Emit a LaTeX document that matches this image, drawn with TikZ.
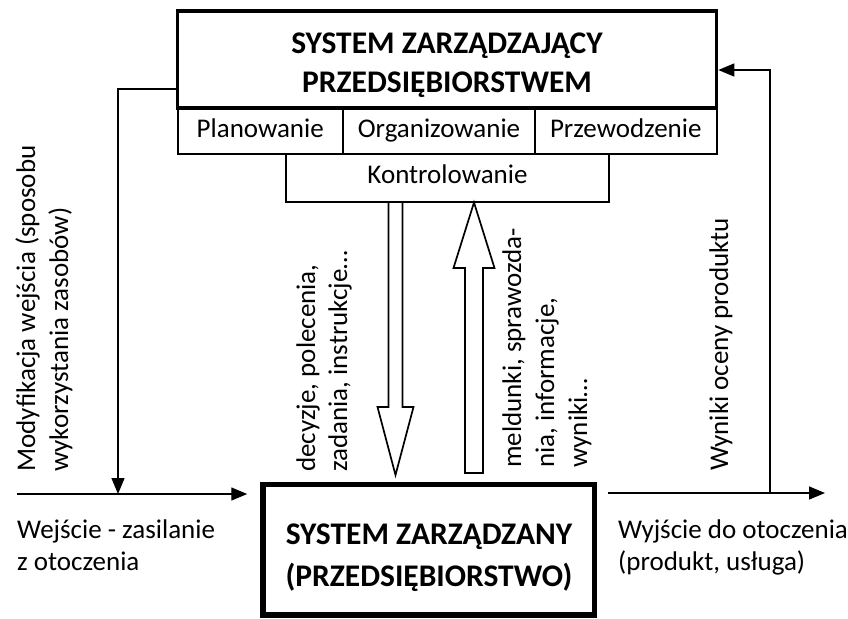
\documentclass[tikz,border=0pt]{standalone}
\usepackage{fontspec}
\setmainfont{Carlito}
\usetikzlibrary{arrows.meta}

\tikzset{
  txt/.style={font=\fontsize{27}{32}\selectfont, inner sep=0pt},
  ttl/.style={font=\fontsize{31.5}{39}\selectfont\bfseries, align=center, inner sep=0pt},
  cell/.style={draw, line width=2pt, minimum height=46, inner sep=0pt,
    text height=18pt, text depth=6pt, font=\fontsize{27}{32}\selectfont},
  rot/.style={txt, rotate=90, anchor=base west},
  conn/.style={line width=1.4pt, -{Triangle[length=16pt, width=13pt]}},
  hollow/.style={line width=1.7pt, line join=miter},
}

\begin{document}
\begin{tikzpicture}[x=1pt, y=-1pt]
\useasboundingbox (0,0) rectangle (848,618);

% management functions under the managing system
\node[cell, minimum width=165.5] (plan) at (260.25,131) {Planowanie};
\node[cell, minimum width=192]   (org)  at (439,131)    {Organizowanie};
\node[cell, minimum width=181.5] (przew) at (625.75,131) {Przewodzenie};
\node[cell, minimum width=323, minimum height=47.5] (kontr) at (447.5,177.75) {Kontrolowanie};

% managing system
\node[draw, line width=3.6pt, minimum width=539, minimum height=97, inner sep=0pt] (zarz) at (447,59.5) {};
\node[ttl] (zarzT) at (447,65) {SYSTEM ZARZĄDZAJĄCY\\PRZEDSIĘBIORSTWEM};

% managed system
\node[draw, line width=5.5pt, minimum width=331.5, minimum height=130.5, inner sep=0pt] (firm) at (428.75,549.75) {};
\node[ttl, font=\fontsize{31.5}{42}\selectfont\bfseries] (firmT) at (429,558) {SYSTEM ZARZĄDZANY\\(PRZEDSIĘBIORSTWO)};

% helper points
\coordinate (inS)  at (17,494);
\coordinate (fbL)  at (118,89);
\coordinate (outE) at (825,493);
\coordinate (fbR)  at (770,493);
\coordinate (fbT)  at (770,70);
\coordinate (dL) at (388.5,0);
\coordinate (dR) at (402.5,0);

% input and its modification
\draw[conn, shorten >=13pt] (inS) -- (inS -| firm.west);
\draw[conn] (fbL -| zarz.west) -- (fbL) -- (fbL |- inS);

% output and feedback of its evaluation
\draw[conn, shorten <=10.5pt] (firm.east |- outE) -- (outE);
\draw[conn] (fbR) -- (fbT) -- (fbT -| zarz.east);

% hollow arrow: decisions going down
\draw[hollow] (kontr.south -| dL) -- (388.5,407) -- (377.5,407) -- (395.5,475)
  -- (413.5,407) -- (402.5,407) -- (kontr.south -| dR);
% hollow arrow: reports going up
\draw[hollow] (465,473) -- (465,268) -- (453.5,268) -- (474,202.5)
  -- (494.5,268) -- (483,268) -- (483,473) -- cycle;

% labels
\node[rot] (modA) at (35,472) {Modyfikacja wejścia (sposobu};
\node[rot] (modB) at (68,472) {wykorzystania zasobów)};
\node[rot] (decA) at (315,472) {decyzje, polecenia,};
\node[rot] (decB) at (347,472) {zadania, instrukcje…};
\node[rot] (melA) at (521,468) {meldunki, sprawozda-};
\node[rot] (melB) at (554,468) {nia, informacje,};
\node[rot] (melC) at (587,468) {wyniki…};
\node[rot] (ocena) at (728,471) {Wyniki oceny produktu};

\node[txt, anchor=base west] (weA) at (17,538) {Wejście - zasilanie};
\node[txt, anchor=base west] (weB) at (17,570) {z otoczenia};
\node[txt, anchor=base west] (wyA) at (618,538) {Wyjście do otoczenia};
\node[txt, anchor=base west] (wyB) at (618,570) {(produkt, usługa)};
\end{tikzpicture}
\end{document}
